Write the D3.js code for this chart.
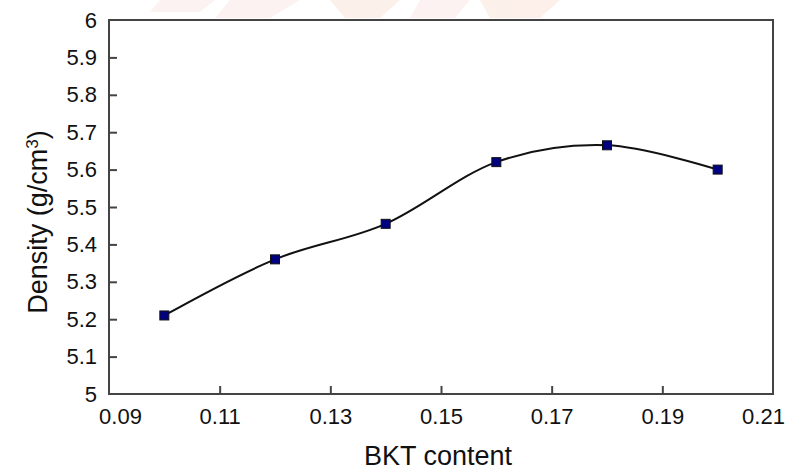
<!DOCTYPE html>
<html>
<head>
<meta charset="utf-8">
<script src="https://cdn.jsdelivr.net/npm/d3@7"></script>
<style>
  body { margin: 0; background: #fff; }
  svg text { font-family: "Liberation Sans", Arial, sans-serif; fill: #111; }
</style>
</head>
<body>
<svg class="chart" width="787" height="471"></svg>
<script>
// data
const bktContent = [0.10, 0.12, 0.14, 0.16, 0.18, 0.20];
const density = [5.21, 5.36, 5.455, 5.62, 5.665, 5.60];
const xTicks = [0.09, 0.11, 0.13, 0.15, 0.17, 0.19, 0.21];
const yTicks = [5, 5.1, 5.2, 5.3, 5.4, 5.5, 5.6, 5.7, 5.8, 5.9, 6];

function draw(){
  const width = 787;
  const height = 471;
  const margin = {top: 20, right: 14, bottom: 77, left: 109};
  const svg = d3.select('svg.chart');

  // faint watermark scraps along the top edge
  const wm = svg.append('g').attr('opacity', 0.25);
  const wmPolys = [
    [[230,0],[300,0],[270,18],[215,18]],
    [[330,0],[400,0],[380,18],[345,18]],
    [[420,0],[470,0],[455,18],[410,18]],
    [[480,0],[560,0],[540,18],[490,18]],
    [[160,0],[215,0],[200,12],[150,12]]
  ];
  wm.selectAll('polygon')
    .data(wmPolys)
    .enter()
    .append('polygon')
    .attr('points', d => d.map(p => p.join(',')).join(' '))
    .attr('fill', (d, i) => i % 2 ? '#f6c4ad' : '#f3cfc9');

  const x = d3.scaleLinear()
    .domain([0.09, 0.21])
    .range([margin.left, width - margin.right]);
  const y = d3.scaleLinear()
    .domain([5, 6])
    .range([height - margin.bottom, margin.top]);

  // box around the plot
  svg.append('rect')
    .attr('x', x(0.09))
    .attr('y', y(6))
    .attr('width', x(0.21) - x(0.09))
    .attr('height', y(5) - y(6))
    .style('fill', 'none')
    .style('stroke', '#444')
    .style('stroke-width', 2);

  const xAxis = d3.axisBottom(x)
    .tickValues(xTicks)
    .tickSize(-8)
    .tickPadding(14)
    .tickFormat(d3.format('.2f'));
  const gx = svg.append('g')
    .attr('transform', `translate(0, ${y(5)})`)
    .call(xAxis);
  gx.select('.domain').remove();
  gx.selectAll('.tick line').style('stroke', '#444').style('stroke-width', 2);
  gx.selectAll('.tick text')
    .style('font-size', '22px')
    // end labels sit a bit inside the plot edges
    .attr('x', d => d === 0.09 ? 11 : d === 0.21 ? -10 : 0);
  gx.selectAll('.tick')
    .filter(d => d === 0.09 || d === 0.21)
    .select('line').remove();

  const yAxis = d3.axisLeft(y)
    .tickValues(yTicks)
    .tickSize(-8)
    .tickPadding(12)
    .tickFormat(d3.format('~g'));
  const gy = svg.append('g')
    .attr('transform', `translate(${x(0.09)}, 0)`)
    .call(yAxis);
  gy.select('.domain').remove();
  gy.selectAll('.tick line').style('stroke', '#444').style('stroke-width', 2);
  gy.selectAll('.tick text').style('font-size', '22px');
  gy.selectAll('.tick')
    .filter(d => d === 5 || d === 6)
    .select('line').remove();

  // smoothed line like the spreadsheet
  const pts = bktContent.map((d, i) => [d, density[i]]);
  const line = d3.line()
    .x(d => x(d[0]))
    .y(d => y(d[1]))
    .curve(d3.curveCardinal.tension(0));
  svg.append('path')
    .datum(pts)
    .attr('d', line)
    .style('fill', 'none')
    .style('stroke', '#111')
    .style('stroke-width', 2);

  svg.selectAll('rect.marker')
    .data(pts)
    .enter()
    .append('rect')
    .classed('marker', true)
    .attr('x', d => x(d[0]) - 4.5)
    .attr('y', d => y(d[1]) - 4.5)
    .attr('width', 9)
    .attr('height', 9)
    .style('fill', '#000080')
    .style('stroke', '#111')
    .style('stroke-width', 1);

  svg.append('text')
    .attr('x', 438)
    .attr('y', 465)
    .attr('text-anchor', 'middle')
    .style('font-size', '27px')
    .text('BKT content');

  const yt = svg.append('text')
    .attr('transform', `translate(47, 222) rotate(-90)`)
    .attr('text-anchor', 'middle')
    .style('font-size', '27px');
  yt.append('tspan').text('Density (g/cm');
  yt.append('tspan').attr('baseline-shift', 'super').style('font-size', '17px').text('3');
  yt.append('tspan').text(')');
}

draw();
</script>
</body>
</html>
